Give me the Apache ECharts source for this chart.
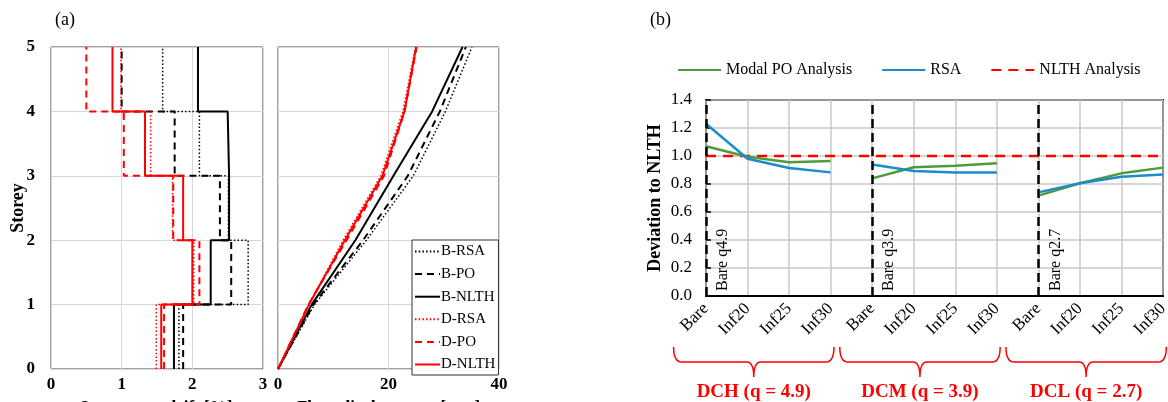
<!DOCTYPE html>
<html><head><meta charset="utf-8">
<script src="https://cdn.jsdelivr.net/npm/echarts@6/dist/echarts.min.js"></script>
<style>html,body{margin:0;padding:0;background:#fff}#c{width:1168px;height:402px}</style>
</head><body><div id="c"></div><script>
// ---------- Panel (a) data ----------
const storeyLevels = [0, 1, 2, 3, 4, 5];
// interstorey drift [%] for storeys 1..5
const driftBRSA  = [1.81, 2.79, 2.51, 2.10, 1.58];
const driftBPO   = [1.87, 2.55, 2.39, 1.75, 1.00];
const driftBNLTH = [1.74, 2.26, 2.52, 2.50, 2.08];
const driftDRSA  = [1.49, 2.02, 1.72, 1.41, 0.99];
const driftDPO   = [1.60, 2.10, 1.73, 1.03, 0.50];
const driftDNLTH = [1.56, 2.00, 1.87, 1.33, 0.87];
// floor displacement [mm] at floors 0..5
const dispBRSA  = [0, 6.6, 16.0, 24.5, 30.3, 35.1];
const dispBPO   = [0, 6.4, 15.4, 23.5, 29.3, 34.0];
const dispBNLTH = [0, 6.1, 14.0, 20.9, 27.9, 33.4];
const dispDRSA  = [0, 5.6, 11.8, 18.6, 22.6, 24.9];
const dispDPO   = [0, 5.5, 12.4, 19.2, 22.9, 25.1];
const dispDNLTH = [0, 5.6, 12.1, 18.9, 22.9, 25.0];
const seriesNamesA = ['B-RSA', 'B-PO', 'B-NLTH', 'D-RSA', 'D-PO', 'D-NLTH'];

// ---------- Panel (b) data ----------
const groupCategories = ['Bare', 'Inf20', 'Inf25', 'Inf30'];
const groupLabels = ['DCH (q = 4.9)', 'DCM (q = 3.9)', 'DCL (q = 2.7)'];
const bareLabels = ['Bare q4.9', 'Bare q3.9', 'Bare q2.7'];
const poValues  = [[1.07, 0.995, 0.955, 0.965], [0.84, 0.92, 0.93, 0.948], [0.717, 0.805, 0.876, 0.917]];
const rsaValues = [[1.23, 0.98, 0.914, 0.883], [0.94, 0.893, 0.883, 0.883], [0.74, 0.805, 0.852, 0.867]];
const nlthValue = 1.0;
const seriesNamesB = ['Modal PO Analysis', 'RSA', 'NLTH Analysis'];

const FONT = '"Liberation Serif", "Times New Roman", serif';
const GREEN = '#4f9a3c', BLUE = '#1a8ccc', RED = '#ff0000';

const categoriesB = [].concat(groupCategories, groupCategories, groupCategories);

function stepProfile(d) {
  const pts = [];
  d.forEach((v, i) => { pts.push([v, storeyLevels[i]]); pts.push([v, storeyLevels[i + 1]]); });
  return pts;
}
function profile(d) { return d.map((v, i) => [v, storeyLevels[i]]); }

const styleA = [
  { color: '#000', type: [1.5, 2.2], width: 1.5 },
  { color: '#000', type: [7, 5], width: 2 },
  { color: '#000', type: 'solid', width: 2 },
  { color: RED, type: [1.5, 2.2], width: 1.5 },
  { color: RED, type: [7, 5], width: 2 },
  { color: RED, type: 'solid', width: 2 }
];
const driftSets = [driftBRSA, driftBPO, driftBNLTH, driftDRSA, driftDPO, driftDNLTH];
const dispSets = [dispBRSA, dispBPO, dispBNLTH, dispDRSA, dispDPO, dispDNLTH];

const series = [];
seriesNamesA.forEach((n, i) => {
  series.push({ name: n, type: 'line', xAxisIndex: 0, yAxisIndex: 0, data: stepProfile(driftSets[i]),
    symbol: 'none', lineStyle: styleA[i], itemStyle: { color: styleA[i].color }, animation: false });
  series.push({ name: n, type: 'line', xAxisIndex: 1, yAxisIndex: 1, data: profile(dispSets[i]),
    symbol: 'none', lineStyle: styleA[i], itemStyle: { color: styleA[i].color }, animation: false });
});

function groupData(vals, g) {
  const arr = new Array(categoriesB.length).fill(null);
  vals.forEach((v, j) => { arr[g * groupCategories.length + j] = v; });
  return arr;
}
series.push({ name: 'NLTH Analysis', type: 'line', xAxisIndex: 2, yAxisIndex: 2,
  data: categoriesB.map(() => nlthValue), symbol: 'none', z: 3,
  lineStyle: { color: RED, type: [10, 7], width: 2.5 }, itemStyle: { color: RED }, animation: false,
  markLine: { silent: true, symbol: 'none', animation: false, label: { show: false },
    lineStyle: { color: '#000', type: [9, 5], width: 2.5 },
    data: [0, 1, 2].map(g => ({ xAxis: g * groupCategories.length })) } });
[0, 1, 2].forEach(g => {
  series.push({ name: 'Modal PO Analysis', type: 'line', xAxisIndex: 2, yAxisIndex: 2, data: groupData(poValues[g], g),
    symbol: 'none', connectNulls: false, z: 4, lineStyle: { color: GREEN, width: 2.5 }, itemStyle: { color: GREEN }, animation: false });
  series.push({ name: 'RSA', type: 'line', xAxisIndex: 2, yAxisIndex: 2, data: groupData(rsaValues[g], g),
    symbol: 'none', connectNulls: false, z: 4, lineStyle: { color: BLUE, width: 2.5 }, itemStyle: { color: BLUE }, animation: false });
});

const gridLine = { show: true, lineStyle: { color: '#d8d8d8', width: 1 } };
const boldLabel = { color: '#000', fontFamily: FONT, fontWeight: 'bold', fontSize: 17 };

const option = {
  backgroundColor: '#fff',
  animation: false,
  grid: [
    { left: 51, top: 47, width: 212, height: 322, show: true, borderColor: '#444', borderWidth: 1, outerBoundsMode: 'none', containLabel: false },
    { left: 278, top: 47, width: 221, height: 322, show: true, borderColor: '#444', borderWidth: 1, outerBoundsMode: 'none', containLabel: false },
    { left: 706, top: 100, width: 457, height: 196, show: true, borderColor: '#000', borderWidth: 2, outerBoundsMode: 'none', containLabel: false }
  ],
  xAxis: [
    { gridIndex: 0, type: 'value', min: 0, max: 3, interval: 1, splitLine: gridLine,
      axisLine: { show: false }, axisTick: { show: false },
      axisLabel: Object.assign({ margin: 7 }, boldLabel),
      name: 'Interstorey drift [%]', nameLocation: 'middle', nameGap: 30, nameMoveOverlap: false,
      nameTextStyle: Object.assign({ verticalAlign: 'top' }, boldLabel) },
    { gridIndex: 1, type: 'value', min: 0, max: 40, interval: 20, splitLine: gridLine,
      axisLine: { show: false }, axisTick: { show: false },
      axisLabel: Object.assign({ margin: 7 }, boldLabel),
      name: 'Floor displacement [mm]', nameLocation: 'middle', nameGap: 30, nameMoveOverlap: false,
      nameTextStyle: Object.assign({ verticalAlign: 'top' }, boldLabel) },
    { gridIndex: 2, type: 'category', data: categoriesB, boundaryGap: false,
      axisLine: { show: true, lineStyle: { color: '#000', width: 2 } }, axisTick: { show: false },
      splitLine: { show: true, lineStyle: { color: '#c8c8c8', width: 1.5 } },
      axisLabel: { rotate: 45, margin: 10, interval: 0, color: '#000', fontFamily: FONT, fontSize: 17 } }
  ],
  yAxis: [
    { gridIndex: 0, type: 'value', min: 0, max: 5, interval: 1, splitLine: gridLine,
      axisLine: { show: false }, axisTick: { show: false },
      axisLabel: Object.assign({ margin: 16 }, boldLabel),
      name: 'Storey', nameLocation: 'middle', nameGap: 24, nameRotate: 90, nameMoveOverlap: false,
      nameTextStyle: Object.assign({}, boldLabel, { fontSize: 18 }) },
    { gridIndex: 1, type: 'value', min: 0, max: 5, interval: 1, splitLine: gridLine,
      axisLine: { show: false }, axisTick: { show: false }, axisLabel: { show: false } },
    { gridIndex: 2, type: 'value', min: 0, max: 1.4, interval: 0.2,
      splitLine: { show: true, lineStyle: { color: '#c8c8c8', width: 1.5 } },
      axisLine: { show: false }, axisTick: { show: true, inside: true, length: 5, lineStyle: { color: '#000', width: 1.5 } },
      axisLabel: { margin: 14, color: '#000', fontFamily: FONT, fontSize: 17, formatter: v => v.toFixed(1) },
      name: 'Deviation to NLTH', nameLocation: 'middle', nameGap: 42, nameRotate: 90,
      nameTextStyle: { color: '#000', fontFamily: FONT, fontWeight: 'bold', fontSize: 18 } }
  ],
  legend: [
    { data: seriesNamesA, orient: 'vertical', left: 412, top: 240, itemWidth: 25, itemHeight: 14, itemGap: 7.6,
      backgroundColor: '#fff', borderColor: '#333', borderWidth: 1, padding: [4, 3, 3, 2],
      itemStyle: { opacity: 0 },
      textStyle: { color: '#000', fontFamily: FONT, fontSize: 15, padding: [0, 0, 0, -4] }, selectedMode: false },
    { data: seriesNamesB, left: 672, top: 57, itemWidth: 43, itemHeight: 14, itemGap: 29,
      itemStyle: { opacity: 0 },
      textStyle: { color: '#000', fontFamily: FONT, fontSize: 16 }, selectedMode: false }
  ],
  series: series
};

const chart = echarts.init(document.getElementById('c'));
chart.setOption(option);

// annotations positioned through the axis scales
const graphics = [
  { type: 'text', x: 55, y: 11, style: { text: '(a)', font: '18px ' + FONT, fill: '#000' } },
  { type: 'text', x: 650, y: 11, style: { text: '(b)', font: '18px ' + FONT, fill: '#000' } }
];
function quad(p0, c, p1, n) {
  const pts = [];
  for (let k = 0; k <= n; k++) {
    const t = k / n, u = 1 - t;
    pts.push([u * u * p0[0] + 2 * u * t * c[0] + t * t * p1[0], u * u * p0[1] + 2 * u * t * c[1] + t * t * p1[1]]);
  }
  return pts;
}
const p00 = chart.convertToPixel({ gridIndex: 2 }, [0, 0]);
const p10 = chart.convertToPixel({ gridIndex: 2 }, [1, 0]);
const step = p10[0] - p00[0];
const yBase = p00[1];
[0, 1, 2].forEach(g => {
  const iStart = g * groupCategories.length, iEnd = iStart + groupCategories.length - 1;
  const xs = chart.convertToPixel({ gridIndex: 2 }, [iStart, 0])[0];
  const xe = chart.convertToPixel({ gridIndex: 2 }, [iEnd, 0])[0];
  const x0 = xs - 0.78 * step, x1 = Math.min(xe + 0.08 * step, 1167), cx = (x0 + x1) / 2;
  const yt = yBase + 51, yh = yBase + 66, yp = yBase + 81;
  const pts = [].concat(
    quad([x0, yt], [x0, yh], [x0 + 8, yh], 8),
    quad([cx - 7, yh], [cx, yh], [cx, yp], 8),
    quad([cx, yp], [cx, yh], [cx + 7, yh], 8),
    quad([x1 - 8, yh], [x1, yh], [x1, yt], 8)
  );
  graphics.push({ type: 'polyline', silent: true, shape: { points: pts },
    style: { stroke: RED, lineWidth: 1.5, fill: null } });
  graphics.push({ type: 'text', silent: true, x: cx, y: yBase + 96,
    style: { text: groupLabels[g], font: 'bold 19px ' + FONT, fill: RED, textAlign: 'center', textVerticalAlign: 'middle' } });
  graphics.push({ type: 'text', silent: true, x: xs + 17, y: yBase - 5, rotation: Math.PI / 2,
    style: { text: bareLabels[g], font: '16px ' + FONT, fill: '#000', textAlign: 'left', textVerticalAlign: 'middle' } });
});
chart.setOption({ graphic: graphics });
</script></body></html>
